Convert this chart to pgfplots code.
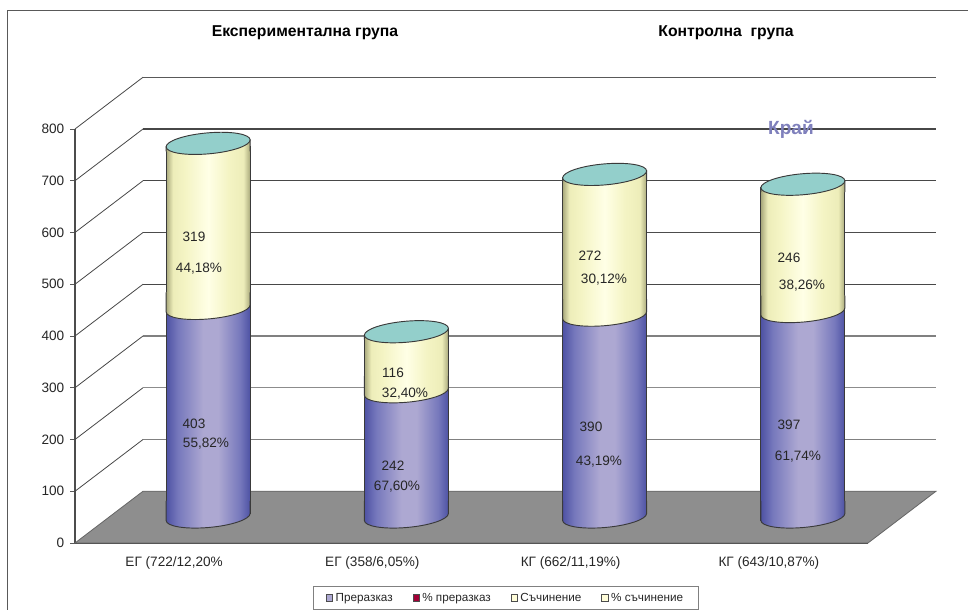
\documentclass[border=0pt]{standalone}
\usepackage{fontspec}
\setmainfont{Liberation Sans}
\usepackage{pgfplots}
\pgfplotsset{compat=1.18}
\definecolor{capteal}{HTML}{93CFCB}
\definecolor{floorgray}{HTML}{8E8E8E}
\definecolor{txt}{HTML}{262626}
\definecolor{edge}{HTML}{3A3A3A}
\definecolor{kray}{HTML}{7F80BC}
\definecolor{y1}{HTML}{A9A97C}\definecolor{y2}{HTML}{EDEDB9}\definecolor{y3}{HTML}{FFFFE6}\definecolor{y4}{HTML}{F4F4C4}
\pgfdeclarehorizontalshading{cylyellow}{100bp}{
  color(0bp)=(y1); color(25bp)=(y1);
  color(29bp)=(y2); color(36bp)=(y4);
  color(50bp)=(y3); color(62bp)=(y4);
  color(71bp)=(y2); color(75bp)=(y1); color(100bp)=(y1)}
\definecolor{b1}{HTML}{4E52A4}\definecolor{b2}{HTML}{7678BC}\definecolor{b3}{HTML}{ADA8D2}
\pgfdeclarehorizontalshading{cylblue}{100bp}{
  color(0bp)=(b1); color(25bp)=(b1); color(32bp)=(b2); color(47bp)=(b3);
  color(56bp)=(b3); color(69bp)=(b2); color(75bp)=(b1); color(100bp)=(b1)}
% front half of a cylinder section (lower half of a sheared ellipse, with side stubs)
\newcommand{\footpath}{%
  \pgfpathmoveto{\pgfpoint{-31.5pt}{12pt}}%
  \pgfpathlineto{\pgfpoint{-31.5pt}{-2.6pt}}%
  \pgfpathcurveto{\pgfpoint{-31.5pt}{-6.96pt}}{\pgfpoint{-17.4pt}{-9.34pt}}{\pgfpoint{0pt}{-7.9pt}}%
  \pgfpathcurveto{\pgfpoint{17.4pt}{-6.46pt}}{\pgfpoint{31.5pt}{-1.76pt}}{\pgfpoint{31.5pt}{2.6pt}}%
  \pgfpathlineto{\pgfpoint{31.5pt}{12pt}}}
\pgfdeclareplotmark{footblue}{%
  \pgfsetfillcolor{floorgray}%
  \pgfpathrectangle{\pgfpoint{15pt}{-4pt}}{\pgfpoint{17.6pt}{6.6pt}}\pgfusepath{fill}%
  \pgfsetstrokecolor{edge}\pgfsetlinewidth{0.7pt}\footpath\pgfshadepath{cylblue}{0}\pgfusepath{stroke}}
\pgfdeclareplotmark{footyellow}{\pgfsetstrokecolor{edge}\pgfsetlinewidth{0.7pt}\footpath\pgfshadepath{cylyellow}{0}\pgfusepath{stroke}}
\pgfdeclareplotmark{topcap}{\pgfsetstrokecolor{edge}\pgfsetlinewidth{0.7pt}%
  \pgfpathmoveto{\pgfpoint{-31.5pt}{-6pt}}%
  \pgfpathlineto{\pgfpoint{-31.5pt}{-2.6pt}}%
  \pgfpathlineto{\pgfpoint{31.5pt}{2.6pt}}%
  \pgfpathlineto{\pgfpoint{31.5pt}{-6pt}}%
  \pgfshadepath{cylyellow}{0}\pgfusepath{stroke}%
  \pgfsetfillcolor{capteal}%
  \pgfpathellipse{\pgfpointorigin}{\pgfpoint{31.5pt}{2.6pt}}{\pgfpoint{0pt}{7.9pt}}%
  \pgfusepath{fill,stroke}}
\begin{document}
\begin{tikzpicture}[x=0.75pt,y=0.75pt]
\path[use as bounding box] (0,0) rectangle (968,610);
\begin{axis}[
  at={(56.25pt,50.25pt)},anchor=south west,scale only axis,
  width=594.75pt,height=310.5pt,
  xmin=0,xmax=4,ymin=0,ymax=800,clip=false,
  axis x line*=bottom,axis y line*=left,
  axis line style={-,draw=black!70,line width=0.8pt},
  xtick={0.5,1.5,2.5,3.5},
  xticklabels={ЕГ (722/12{,}20\%,ЕГ (358/6{,}05\%),КГ (662/11{,}19\%),КГ (643/10{,}87\%)},
  minor xtick={0,1,2,3,4},
  major tick length=3.5pt,
  minor tick length=3pt,
  xtick style={draw=none},
  every minor tick/.style={draw=black!65,line width=0.6pt},
  ytick={0,100,...,800},
  ytick style={draw=black!65,line width=0.6pt},
  tick align=outside,
  tick label style={font=\fontsize{10.2}{12}\selectfont,text=txt},
  xticklabel style={yshift=-3.5pt},
  yticklabel style={xshift=-1pt},
  /pgf/number format/assume math mode=true,
  legend style={at={(0.5435,-0.1329)},anchor=center,legend columns=4,
    draw=black!50,line width=0.6pt,fill=white,inner xsep=9.5pt,inner ysep=3pt,
    font=\fontsize{8.8}{10}\selectfont,text=txt,
    /tikz/every even column/.append style={column sep=13pt}},
]
% legend images
\addlegendimage{legend image code/.code={\draw[draw=black!70,fill=b3,line width=.5pt] (0.5pt,-2.4pt) rectangle (5.2pt,2.4pt);}}
\addlegendimage{legend image code/.code={\draw[draw=black!70,fill=purple!85!black,line width=.5pt] (0.5pt,-2.4pt) rectangle (5.2pt,2.4pt);}}
\addlegendimage{legend image code/.code={\draw[draw=black!70,fill=yellow!15!white,line width=.5pt] (0.5pt,-2.4pt) rectangle (5.2pt,2.4pt);}}
\addlegendimage{legend image code/.code={\draw[draw=black!70,fill=yellow!15!white,line width=.5pt] (0.5pt,-2.4pt) rectangle (5.2pt,2.4pt);}}
\addlegendentry{Преразказ}
\addlegendentry{\% преразказ}
\addlegendentry{Съчинение}
\addlegendentry{\% съчинение}
% back wall grid
\addplot[forget plot,draw=black!50,line width=0.8pt] coordinates {(0.343,200)(4.343,200)};
\addplot[forget plot,draw=black!45,line width=0.8pt] coordinates {(0.343,300)(4.343,300)};
\addplot[forget plot,draw=black!50,line width=0.8pt] coordinates {(0.343,400)(4.343,400)};
\addplot[forget plot,draw=black!72,line width=0.9pt] coordinates {(0.343,500)(4.343,500)};
\addplot[forget plot,draw=black!70,line width=0.85pt] coordinates {(0.343,600)(4.343,600)};
\addplot[forget plot,draw=black!72,line width=0.9pt] coordinates {(0.343,700)(4.343,700)};
\addplot[forget plot,draw=black!72,line width=1pt] coordinates {(0.343,800)(4.343,800)};
\addplot[forget plot,draw=black!65,line width=0.8pt] coordinates {(0.343,900)(4.343,900)};
% side wall grid
\addplot[forget plot,draw=black!72,line width=0.6pt] coordinates {(0,100)(0.343,200)};
\addplot[forget plot,draw=black!72,line width=0.6pt] coordinates {(0,200)(0.343,300)};
\addplot[forget plot,draw=black!72,line width=0.6pt] coordinates {(0,300)(0.343,400)};
\addplot[forget plot,draw=black!72,line width=0.6pt] coordinates {(0,400)(0.343,500)};
\addplot[forget plot,draw=black!72,line width=0.6pt] coordinates {(0,500)(0.343,600)};
\addplot[forget plot,draw=black!72,line width=0.6pt] coordinates {(0,600)(0.343,700)};
\addplot[forget plot,draw=black!72,line width=0.6pt] coordinates {(0,700)(0.343,800)};
\addplot[forget plot,draw=black!72,line width=0.6pt] coordinates {(0,800)(0.343,900)};
% floor
\addplot[forget plot,fill=floorgray,draw=black!60,line width=0.6pt] coordinates {(0,0)(0.343,100)(4.343,100)(4,0)} -- cycle;
% totals
\addplot[forget plot,ybar,bar width=63pt,bar shift=0pt,xshift=25.5pt,yshift=16.9pt,shade,shading=cylyellow,draw=edge,line width=.7pt] coordinates {(0.5,722)};
\addplot[forget plot,ybar,bar width=63pt,bar shift=0pt,xshift=25.5pt,yshift=16.9pt,shade,shading=cylyellow,draw=edge,line width=.7pt] coordinates {(1.5,358)};
\addplot[forget plot,ybar,bar width=63pt,bar shift=0pt,xshift=25.5pt,yshift=16.9pt,shade,shading=cylyellow,draw=edge,line width=.7pt] coordinates {(2.5,662)};
\addplot[forget plot,ybar,bar width=63pt,bar shift=0pt,xshift=25.5pt,yshift=16.9pt,shade,shading=cylyellow,draw=edge,line width=.7pt] coordinates {(3.5,643)};
% Преразказ
\addplot[forget plot,ybar,bar width=63pt,bar shift=0pt,xshift=25.5pt,yshift=22.5pt,shade,shading=cylblue,draw=edge,line width=.7pt] coordinates {(0.5,403)};
\addplot[forget plot,ybar,bar width=63pt,bar shift=0pt,xshift=25.5pt,yshift=22.5pt,shade,shading=cylblue,draw=edge,line width=.7pt] coordinates {(1.5,242)};
\addplot[forget plot,ybar,bar width=63pt,bar shift=0pt,xshift=25.5pt,yshift=22.5pt,shade,shading=cylblue,draw=edge,line width=.7pt] coordinates {(2.5,390)};
\addplot[forget plot,ybar,bar width=63pt,bar shift=0pt,xshift=25.5pt,yshift=22.5pt,shade,shading=cylblue,draw=edge,line width=.7pt] coordinates {(3.5,397)};
% foot of the bases, over the bars
\addplot[forget plot,only marks,mark=footblue,xshift=25.5pt,yshift=19.5pt] coordinates {(0.5,0)(1.5,0)(2.5,0)(3.5,0)};
% boundary and caps
\addplot[forget plot,only marks,mark=footyellow,xshift=25.5pt,yshift=19.5pt] coordinates {(0.5,403)(1.5,242)(2.5,390)(3.5,397)};
\addplot[forget plot,only marks,mark=topcap,xshift=25.5pt,yshift=19.5pt] coordinates {(0.5,722)(1.5,358)(2.5,662)(3.5,643)};
\end{axis}
\draw[draw=black!65,line width=1.1pt] (7.5,0) -- (7.5,599.5) -- (968,599.5);
\tikzset{lab/.style={font=\fontsize{10.2}{12}\selectfont,text=txt,inner sep=0pt}}
\node[font=\bfseries\fontsize{11.8}{14}\selectfont,text=black] at (305,577) {Експериментална група};
\node[font=\bfseries\fontsize{11.8}{14}\selectfont,text=black] at (726,577) {Контролна\ \ група};
\node[font=\bfseries\fontsize{14.3}{16}\selectfont,text=kray] at (791,481) {Край};
\node[lab] at (194,373) {319};
\node[lab] at (199,341) {44,18\%};
\node[lab] at (194,186) {403};
\node[lab] at (206,166) {55,82\%};
\node[lab] at (393,237) {116};
\node[lab] at (405,216) {32,40\%};
\node[lab] at (393,144) {242};
\node[lab] at (397,123) {67,60\%};
\node[lab] at (590,354) {272};
\node[lab] at (604,330) {30,12\%};
\node[lab] at (591,183) {390};
\node[lab] at (599,148) {43,19\%};
\node[lab] at (789,352) {246};
\node[lab] at (802,324) {38,26\%};
\node[lab] at (789,185) {397};
\node[lab] at (798,153) {61,74\%};
\end{tikzpicture}
\end{document}
